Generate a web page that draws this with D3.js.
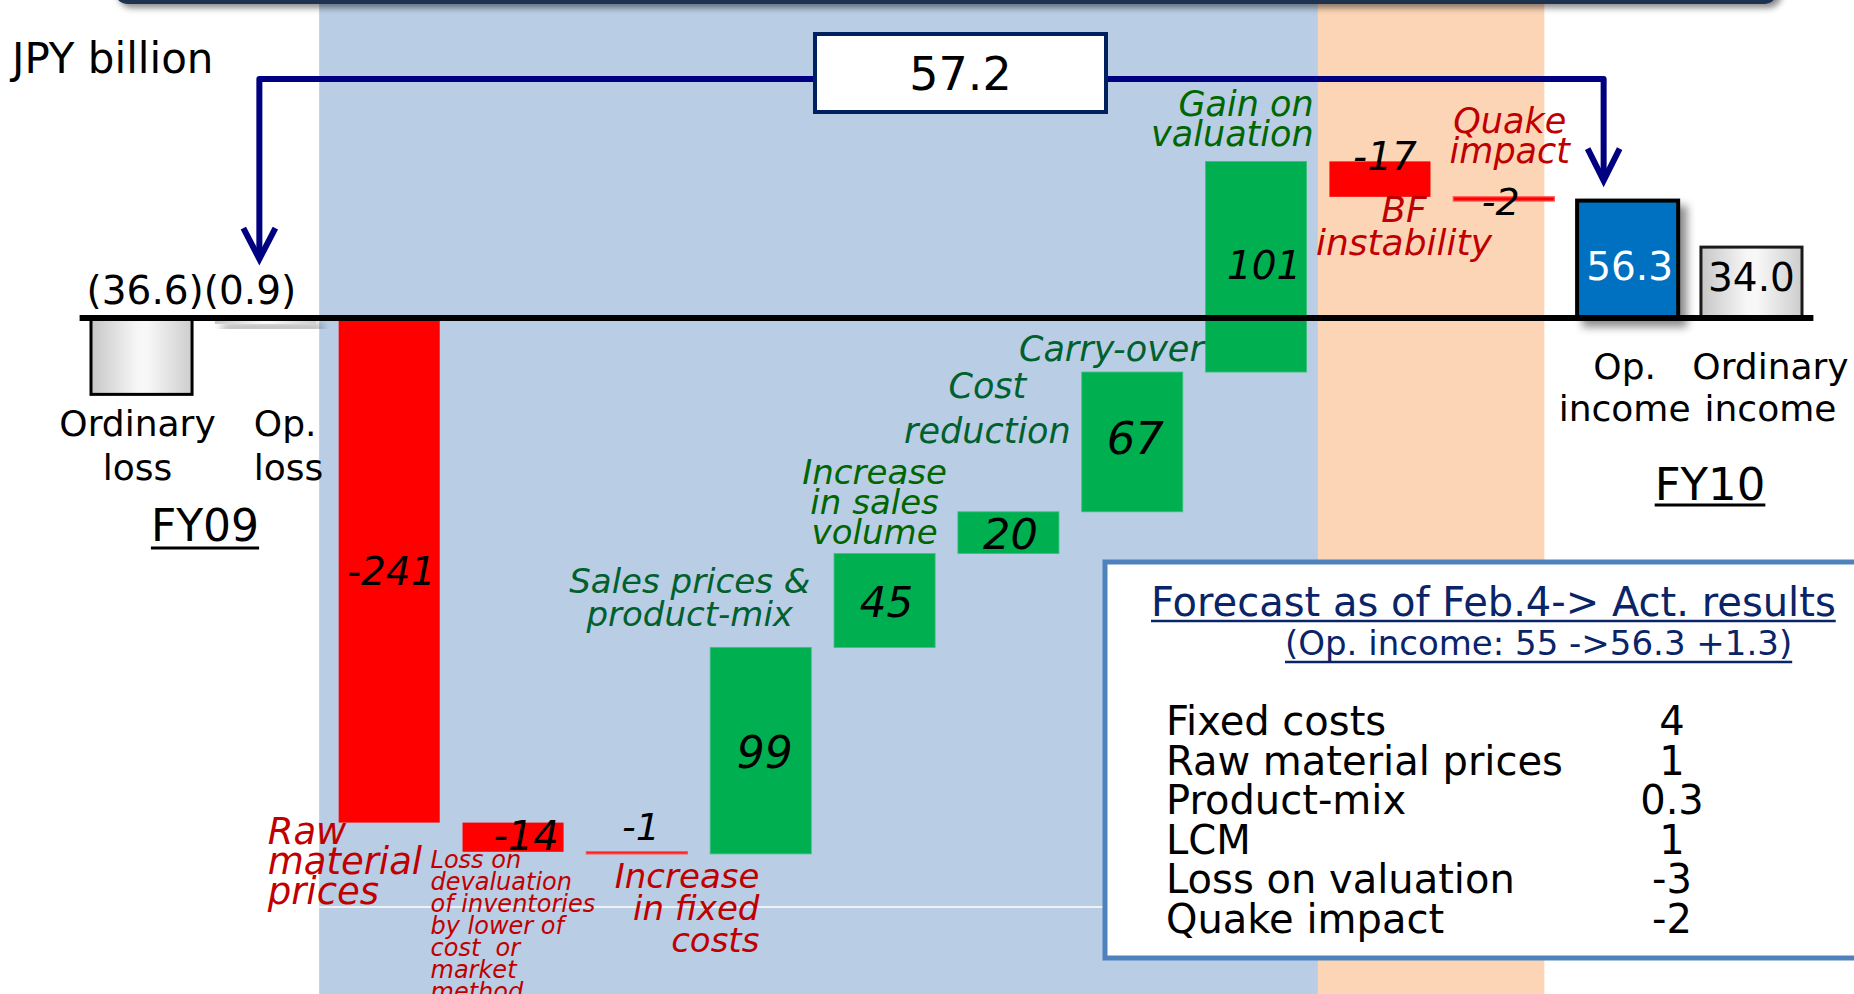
<!DOCTYPE html>
<html>
<head>
<meta charset="utf-8">
<script src="https://cdn.jsdelivr.net/npm/d3@7"></script>
<style>
  html, body { margin: 0; padding: 0; background: #ffffff; }
  svg { display: block; font-family: "DejaVu Sans", "Noto Sans", sans-serif; }
</style>
</head>
<body>
<svg id="chart" width="1854" height="994"></svg>
<script>
// ---- Data -------------------------------------------------------------
const unitLabel = "JPY billion";
const categories = [
  "FY09 Ordinary loss", "FY09 Op. loss",
  "Raw material prices", "Loss on devaluation of inventories", "Increase in fixed costs",
  "Sales prices & product-mix", "Increase in sales volume", "Cost reduction",
  "Carry-over", "Gain on valuation", "BF instability", "Quake impact",
  "FY10 Op. income", "FY10 Ordinary income"
];
const fy09Values = [-36.6, -0.9];            // ordinary loss, op. loss
const fy09Labels = ["(36.6)", "(0.9)"];
const stepValues = [-241, -14, -1, 99, 45, 20, 67, 101, -17, -2];
const stepLabels = ["-241", "-14", "-1", "99", "45", "20", "67", "101", "-17", "-2"];
const stepNames = [
  ["Raw", "material", "prices"],
  ["Loss on", "devaluation", "of inventories", "by lower of", "cost  or", "market", "method"],
  ["Increase", "in fixed", "costs"],
  ["Sales prices &", "product-mix"],
  ["Increase", "in sales", "volume"],
  ["Cost", "reduction"],
  ["Carry-over"],
  ["Gain on", "valuation"],
  ["BF", "instability"],
  ["Quake", "impact"]
];
const fy10Values = [56.3, 34.0];             // op. income, ordinary income
const fy10Labels = ["56.3", "34.0"];
const resultNames = [["Ordinary", "loss"], ["Op.", "loss"], ["Op.", "income"], ["Ordinary", "income"]];
const periodLabels = ["FY09", "FY10"];
const improvementLabel = "57.2";
const legendTitle = "Forecast as of Feb.4-> Act. results";
const legendSubtitle = "(Op. income: 55 ->56.3 +1.3)";
const legendItems = ["Fixed costs", "Raw material prices", "Product-mix", "LCM", "Loss on valuation", "Quake impact"];
const legendValues = ["4", "1", "0.3", "1", "-3", "-2"];

// ---- Styling ----------------------------------------------------------
const C = {
  panelBlue: "#B9CDE5", panelPeach: "#FBD5B5",
  barRed: "#FF0000", barGreen: "#00B050", barBlue: "#0070C0",
  textRed: "#C00000", textGreenDark: "#00602E", textGreen: "#006600",
  navy: "#000080", boxNavy: "#002060", legendBorder: "#4F81BD", legendText: "#0A2468"
};

// Where each step's value and name sit relative to its bar
const valueLayout = [
  { dx: 2,  ref: "mid",    dy: 14,  size: 39 },
  { dx: 13, ref: "bottom", dy: -2,  size: 40 },
  { dx: 4,  ref: "top",    dy: -12, size: 38 },
  { dx: 4,  ref: "mid",    dy: 17,  size: 44 },
  { dx: 2,  ref: "mid",    dy: 17,  size: 42 },
  { dx: 2,  ref: "mid",    dy: 16,  size: 43 },
  { dx: 3,  ref: "mid",    dy: 12,  size: 45 },
  { dx: 8,  ref: "mid",    dy: 12,  size: 39 },
  { dx: 5,  ref: "top",    dy: 9,   size: 39 },
  { dx: -3, ref: "top",    dy: 18,  size: 38 }
];
const nameLayout = [
  { anchor: "start",  hx: "left",   dx: -71,  vy: "bottom", dy: 21,   lh: 30, size: 37, color: C.textRed },
  { anchor: "start",  hx: "left",   dx: -32,  vy: "bottom", dy: 16,   lh: 22, size: 24, color: C.textRed },
  { anchor: "end",    hx: "right",  dx: 72,   vy: "bottom", dy: 34,   lh: 32, size: 34, color: C.textRed },
  { anchor: "middle", hx: "center", dx: -71,  vy: "top",    dy: -54,  lh: 33, size: 34, color: C.textGreenDark },
  { anchor: "middle", hx: "center", dx: -10,  vy: "top",    dy: -70,  lh: 30, size: 34, color: C.textGreen },
  { anchor: "middle", hx: "center", dx: -21,  vy: "top",    dy: -114, lh: 45, size: 35, color: C.textGreenDark },
  { anchor: "end",    hx: "right",  dx: 21,   vy: "top",    dy: -11,  lh: 30, size: 35, color: C.textGreenDark },
  { anchor: "end",    hx: "right",  dx: 7,    vy: "top",    dy: -45,  lh: 30, size: 35, color: C.textGreen },
  { anchor: "middle", hx: "center", dx: 24,   vy: "bottom", dy: 25,   lh: 33, size: 36, color: C.textRed },
  { anchor: "middle", hx: "center", dx: 6,    vy: "top",    dy: -64,  lh: 30, size: 35, color: C.textRed }
];

// ---- Scales -----------------------------------------------------------
const svg = d3.select("#chart");
const x = d3.scaleBand().domain(categories)
  .range([79.6, 1813.4]).paddingInner(0.184).paddingOuter(0.092);
const y = d3.scaleLinear().domain([-257, 76]).range([854.1, 159.5]);
const bw = x.bandwidth();
const cx = c => x(c) + bw / 2;

// Running total for the bridge
let running = fy09Values[1];
const steps = stepValues.map((v, i) => {
  const from = running; running += v;
  return { cat: categories[i + 2], v, from, to: running, label: stepLabels[i], name: stepNames[i] };
});
steps.forEach(s => {
  s.top = y(Math.max(s.from, s.to));
  s.bottom = y(Math.min(s.from, s.to));
});

// ---- Defs -------------------------------------------------------------
const defs = svg.append("defs");
const grey = defs.append("linearGradient").attr("id", "greyFill").attr("x1", 0).attr("x2", 1).attr("y1", 0).attr("y2", 0);
[[0, "#c6c6c6"], [0.45, "#f6f6f6"], [0.55, "#f8f8f8"], [1, "#cdcdcd"]]
  .forEach(([o, c]) => grey.append("stop").attr("offset", o).attr("stop-color", c));
const sh = defs.append("filter").attr("id", "shadow").attr("x", "-30%").attr("y", "-30%").attr("width", "170%").attr("height", "200%");
sh.append("feDropShadow").attr("dx", 7).attr("dy", 7).attr("stdDeviation", 4)
  .attr("flood-color", "#000").attr("flood-opacity", 0.45);
const shTop = defs.append("filter").attr("id", "bandShadow").attr("x", "-5%").attr("y", "-50%").attr("width", "110%").attr("height", "250%");
shTop.append("feDropShadow").attr("dx", 4).attr("dy", 4).attr("stdDeviation", 3)
  .attr("flood-color", "#000").attr("flood-opacity", 0.45);

// ---- Background panels --------------------------------------------------
const panelLeft = x(categories[2]) - 19.5;
const panelMid = x(categories[10]) - 11.5;
const panelRight = x(categories[11]) + bw - 10;
svg.append("rect").attr("x", panelLeft).attr("y", 0).attr("width", panelMid - panelLeft).attr("height", 994).attr("fill", C.panelBlue);
svg.append("rect").attr("x", panelMid).attr("y", 0).attr("width", panelRight - panelMid).attr("height", 994).attr("fill", C.panelPeach);
svg.append("line").attr("x1", panelLeft).attr("x2", 1105).attr("y1", 907).attr("y2", 907)
  .attr("stroke", "#ffffff").attr("stroke-width", 1.5);

// Header strip
svg.append("rect").attr("x", 114).attr("y", -30).attr("width", 1664).attr("height", 34).attr("rx", 14)
  .attr("fill", "#1F3050").attr("filter", "url(#bandShadow)");

// ---- Bars -------------------------------------------------------------
const bars = svg.append("g");

// FY09 results
bars.append("rect").attr("x", x(categories[0])).attr("y", y(0)).attr("width", bw)
  .attr("height", y(fy09Values[0]) - y(0)).attr("fill", "url(#greyFill)").attr("stroke", "#000").attr("stroke-width", 3);
bars.append("rect").attr("x", x(categories[1])).attr("y", y(0)).attr("width", bw)
  .attr("height", y(fy09Values[1]) - y(0) + 4).attr("fill", "url(#greyFill)").attr("filter", "url(#shadow)");

// Bridge steps
bars.selectAll("rect.step").data(steps).join("rect").attr("class", "step")
  .attr("x", d => x(d.cat)).attr("width", bw)
  .attr("y", d => d.top).attr("height", d => d.bottom - d.top)
  .attr("fill", d => d.v < 0 ? C.barRed : C.barGreen)
  .attr("stroke", d => d.v < 0 ? (Math.abs(d.v) < 5 ? "#ff5050" : "none") : "#3fbf7f")
  .attr("stroke-width", d => Math.abs(d.v) < 5 ? 1.2 : 0.8);

// FY10 results
bars.append("rect").attr("x", x(categories[12])).attr("y", y(fy10Values[0])).attr("width", bw)
  .attr("height", y(0) - y(fy10Values[0])).attr("fill", C.barBlue).attr("stroke", "#000").attr("stroke-width", 4)
  .attr("filter", "url(#shadow)");
bars.append("rect").attr("x", x(categories[13])).attr("y", y(fy10Values[1])).attr("width", bw)
  .attr("height", y(0) - y(fy10Values[1])).attr("fill", "url(#greyFill)").attr("stroke", "#1a1a1a").attr("stroke-width", 3);

// Zero line
const r = x.range();
svg.append("line").attr("x1", r[0]).attr("x2", r[1]).attr("y1", y(0)).attr("y2", y(0))
  .attr("stroke", "#000").attr("stroke-width", 6);

// ---- Text helpers -----------------------------------------------------
function lines(g, arr, o) {
  const t = g.append("text").attr("x", o.x).attr("y", o.y)
    .attr("text-anchor", o.anchor || "middle").attr("font-size", o.size)
    .attr("fill", o.fill || "#000").attr("font-style", o.italic ? "italic" : "normal")
    .style("white-space", "pre");
  arr.forEach((s, i) => t.append("tspan").attr("x", o.x).attr("y", o.y + i * (o.lh || 0)).text(s));
  return t;
}
function underline(g, t, offset, w) {
  const b = t.node().getBBox();
  const yy = +t.attr("y") + offset;
  g.append("line").attr("x1", b.x).attr("x2", b.x + b.width).attr("y1", yy).attr("y2", yy)
    .attr("stroke", t.attr("fill")).attr("stroke-width", w);
}

const labels = svg.append("g");

// Unit
lines(labels, [unitLabel], { x: 12, y: 73, anchor: "start", size: 42 });

// Step values and names
steps.forEach((s, i) => {
  const L = valueLayout[i];
  const ref = L.ref === "mid" ? (s.top + s.bottom) / 2 : (L.ref === "top" ? s.top : s.bottom);
  lines(labels, [s.label], { x: cx(s.cat) + L.dx, y: ref + L.dy, size: L.size, italic: true });

  const N = nameLayout[i];
  const hx = N.hx === "left" ? x(s.cat) : (N.hx === "right" ? x(s.cat) + bw : cx(s.cat));
  const vy = N.vy === "top" ? s.top : s.bottom;
  lines(labels, s.name, { x: hx + N.dx, y: vy + N.dy, anchor: N.anchor, size: N.size, lh: N.lh, fill: N.color, italic: true });
});

// FY09 values and names
const fy09Join = x(categories[1]) - 11;
lines(labels, [fy09Labels[0]], { x: fy09Join, y: 304, anchor: "end", size: 39 });
lines(labels, [fy09Labels[1]], { x: fy09Join, y: 304, anchor: "start", size: 39 });
lines(labels, resultNames[0], { x: cx(categories[0]) - 4, y: 436, size: 36, lh: 44 });
lines(labels, resultNames[1], { x: x(categories[1]) + 39, y: 436, anchor: "start", size: 36, lh: 44 });
const fy09 = lines(labels, [periodLabels[0]], { x: 205, y: 541, size: 44 });
underline(labels, fy09, 7, 3);

// FY10 values and names
lines(labels, [fy10Labels[0]], { x: cx(categories[12]) + 2, y: 280, size: 39, fill: "#ffffff" });
lines(labels, [fy10Labels[1]], { x: cx(categories[13]), y: 291, size: 39 });
lines(labels, resultNames[2], { x: cx(categories[12]) - 3, y: 379, size: 36, lh: 42 });
lines(labels, resultNames[3], { x: cx(categories[13]) + 19, y: 379, size: 36, lh: 42 });
const fy10 = lines(labels, [periodLabels[1]], { x: 1710, y: 500, size: 45 });
underline(labels, fy10, 5, 3);

// ---- Improvement bracket ----------------------------------------------
const lx = cx(categories[1]) - 6, ly = y(0) - 59;
const rx = cx(categories[12]) - 24, ry = y(fy10Values[0]) - 20;
const topY = 79;
const br = svg.append("g").attr("fill", "none").attr("stroke", C.navy).attr("stroke-width", 6).attr("stroke-linejoin", "round");
br.append("path").attr("d", `M${lx},${ly - 4} L${lx},${topY} L${rx},${topY} L${rx},${ry - 4}`);
br.append("path").attr("d", `M${lx - 16},${ly - 31} L${lx},${ly} L${lx + 16},${ly - 31}`).attr("stroke-linejoin", "miter");
br.append("path").attr("d", `M${rx - 16},${ry - 32} L${rx},${ry} L${rx + 16},${ry - 32}`).attr("stroke-linejoin", "miter");
svg.append("rect").attr("x", 815).attr("y", 34).attr("width", 291).attr("height", 78)
  .attr("fill", "#ffffff").attr("stroke", C.boxNavy).attr("stroke-width", 4);
lines(svg, [improvementLabel], { x: 960.5, y: 90, size: 46 });

// ---- Forecast comparison box ------------------------------------------
const lg = svg.append("g");
lg.append("rect").attr("x", 1105).attr("y", 562).attr("width", 770).attr("height", 396)
  .attr("fill", "#ffffff").attr("stroke", C.legendBorder).attr("stroke-width", 5);
const lt = lines(lg, [legendTitle], { x: 1151, y: 616, anchor: "start", size: 40, fill: C.legendText });
underline(lg, lt, 5, 2.5);
const ls = lines(lg, [legendSubtitle], { x: 1285, y: 655, anchor: "start", size: 34, fill: C.legendText });
underline(lg, ls, 7, 2.5);
legendItems.forEach((s, i) => {
  lines(lg, [s], { x: 1166, y: 735 + i * 39.6, anchor: "start", size: 40 });
  lines(lg, [legendValues[i]], { x: 1672, y: 735 + i * 39.6, size: 40 });
});
</script>
</body>
</html>
